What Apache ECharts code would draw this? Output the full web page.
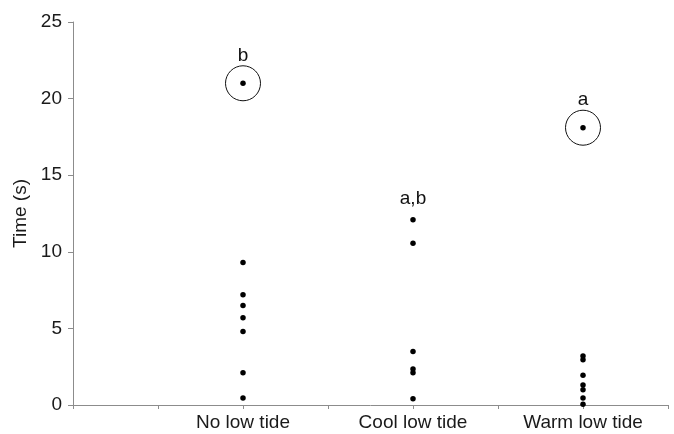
<!DOCTYPE html>
<html>
<head>
<meta charset="utf-8">
<script src="https://cdn.jsdelivr.net/npm/echarts@6/dist/echarts.min.js"></script>
<style>
html,body{margin:0;padding:0;background:#fff;}
#c{width:674px;height:434px;}
</style>
</head>
<body>
<div id="c"></div>
<script>
// ---- data ----
var categories = ['No low tide', 'Cool low tide', 'Warm low tide'];
var noLowTide = [21.0, 9.3, 7.2, 6.5, 5.7, 4.8, 2.1, 0.45];
var coolLowTide = [12.1, 10.55, 3.5, 2.35, 2.1, 0.4];
var warmLowTide = [18.1, 3.2, 2.95, 1.95, 1.3, 1.0, 0.45, 0.05];
var circledValues = [21.0, null, 18.1];
var groupLetters = ['b', 'a,b', 'a'];
var yTicks = [0, 5, 10, 15, 20, 25];

// ---- build ----
var groups = [noLowTide, coolLowTide, warmLowTide];
var dots = [];
groups.forEach(function (g, i) {
  g.forEach(function (v) { dots.push([i + 1, v]); });
});
var circles = [];
circledValues.forEach(function (v, i) { if (v !== null) circles.push([i + 1, v]); });
var letterData = groups.map(function (g, i) {
  var top = Math.max.apply(null, g);
  return {
    value: [i + 1, top],
    label: { formatter: groupLetters[i], distance: circledValues[i] !== null ? 18 : 11 }
  };
});

var font = 'Liberation Sans, Arial, Helvetica, sans-serif';
var chart = echarts.init(document.getElementById('c'), null, { renderer: 'canvas' });
chart.setOption({
  animation: false,
  backgroundColor: '#ffffff',
  grid: { left: 73, right: 6, top: 22, bottom: 29, containLabel: false },
  xAxis: {
    type: 'value',
    min: 0, max: 3.5, interval: 0.5,
    axisLine: { show: true, lineStyle: { color: '#8c8c8c', width: 1 } },
    axisTick: { show: true, length: 4, lineStyle: { color: '#8c8c8c' } },
    splitLine: { show: false },
    axisLabel: {
      margin: 8, color: '#1a1a1a', fontSize: 19, fontFamily: font,
      showMinLabel: true, showMaxLabel: true,
      formatter: function (v) {
        var idx = Math.round(v) - 1;
        return (Math.abs(v - Math.round(v)) < 1e-6 && idx >= 0 && idx < categories.length) ? categories[idx] : '';
      }
    }
  },
  yAxis: {
    type: 'value',
    min: yTicks[0], max: yTicks[yTicks.length - 1], interval: yTicks[1] - yTicks[0],
    name: 'Time (s)', nameLocation: 'middle', nameGap: 38,
    nameTextStyle: { color: '#1a1a1a', fontSize: 19, fontFamily: font },
    axisLine: { show: true, lineStyle: { color: '#8c8c8c', width: 1 } },
    axisTick: { show: true, length: 5, inside: false, lineStyle: { color: '#8c8c8c' } },
    splitLine: { show: false },
    axisLabel: { margin: 11, color: '#1a1a1a', fontSize: 19, fontFamily: font }
  },
  series: [
    {
      type: 'scatter', data: dots, symbol: 'circle', symbolSize: 5.5,
      itemStyle: { color: '#000', opacity: 1 }, silent: true
    },
    {
      type: 'scatter', data: circles, symbol: 'circle', symbolSize: 35,
      itemStyle: { color: 'rgba(0,0,0,0)', borderColor: '#111', borderWidth: 1, opacity: 1 }, silent: true
    },
    {
      type: 'scatter', data: letterData, symbolSize: 0, silent: true,
      itemStyle: { opacity: 1 },
      label: { show: true, position: 'top', color: '#111', fontSize: 19, fontFamily: font }
    }
  ]
});
</script>
</body>
</html>
